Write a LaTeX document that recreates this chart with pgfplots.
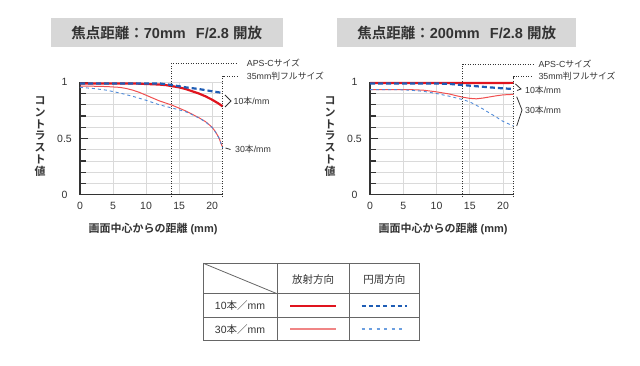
\documentclass[border=0pt]{standalone}
\usepackage{pgfplots}
\pgfplotsset{compat=1.18}
\usepackage{fontspec}
\setmainfont{Liberation Sans}
\newfontfamily\jp{Noto Sans CJK JP}[BoldFont={Noto Sans CJK JP Bold}]
\definecolor{rthick}{HTML}{E0141E}
\definecolor{rthin}{HTML}{F05050}
\definecolor{bthick}{HTML}{1F5DB5}
\definecolor{bthin}{HTML}{4F8AD8}
\definecolor{bleg}{HTML}{6C9FE0}
\definecolor{rleg}{HTML}{F08585}
\definecolor{titlegray}{HTML}{D7D7D7}
\definecolor{gridc}{HTML}{DADADA}
\definecolor{axc}{HTML}{333333}
\tikzset{
  r10/.style={rthick, line width=2.2pt},
  t10/.style={bthick, line width=2.2pt, dash pattern=on 5pt off 3pt},
  r30/.style={rthin, line width=1pt},
  t30/.style={bthin, line width=0.9pt, dash pattern=on 3pt off 3pt},
  dotl/.style={axc, line width=0.7pt, dash pattern=on 1pt off 1.5pt},
}
\pgfplotsset{mtf/.style={
  scale only axis, height=112.4pt,
  xmin=0, xmax=21.6, ymin=0, ymax=1,
  axis lines=left, axis line style={-, axc, line width=1.6pt},
  clip=false,
  xtick={0,5,10,15,20}, ytick={0,0.5,1},
  minor ytick={0.1,0.2,0.3,0.4,0.6,0.7,0.8,0.9},
  grid=both, major grid style={gridc, line width=0.6pt}, minor grid style={gridc, line width=0.6pt},
  tick align=inside, major tick length=8pt, minor tick length=6pt,
  ytick style={axc, line width=1.2pt}, minor tick style={axc, line width=1.2pt},
  xtick style={draw=none},
  /pgf/number format/assume math mode=true,
  ticklabel style={font=\fontsize{10.5}{10.5}\selectfont, text=axc},
  yticklabel style={anchor=center, xshift=-15.5pt},
  xticklabel style={yshift=-4pt},
}}
\begin{document}
\begin{tikzpicture}[x=1pt,y=1pt]
\useasboundingbox (0,0) rectangle (640,366);
% titles
\fill[titlegray] (50.7,{366-18.3}) rectangle (282.7,{366-46.7});
\fill[titlegray] (337.3,{366-18.3}) rectangle (576,{366-46.7});
\node[font=\fontsize{14.5}{14.5}\selectfont\bfseries, text=axc] at (166.7,{366-32.5}) {{\jp\bfseries 焦点距離：}70mm\hspace{0.7em}F/2.8 {\jp\bfseries 開放}};
\node[font=\fontsize{14.5}{14.5}\selectfont\bfseries, text=axc] at (456.7,{366-32.5}) {{\jp\bfseries 焦点距離：}200mm\hspace{0.7em}F/2.8 {\jp\bfseries 開放}};

% left chart
\begin{axis}[mtf, at={(80pt,171.3pt)}, anchor=south west, width=142.7pt]
\addplot[r30] coordinates {(0,0.965)(2,0.965)(4,0.962)(6,0.955)(7,0.945)(8,0.93)(9,0.91)(10,0.885)(11,0.86)(12,0.835)(13,0.815)(14,0.795)(15,0.77)(16,0.745)(17,0.715)(18,0.685)(19,0.65)(20,0.6)(20.5,0.56)(21,0.51)(21.6,0.42)};
\addplot[t30] coordinates {(0,0.955)(2,0.945)(4,0.93)(6,0.905)(8,0.875)(10,0.84)(12,0.80)(14,0.77)(15,0.755)(16,0.738)(17,0.712)(18,0.682)(19,0.648)(20,0.598)(20.5,0.558)(21,0.508)(21.6,0.415)};
\addplot[r10] coordinates {(0,0.99)(2,0.99)(4,0.99)(6,0.99)(8,0.99)(10,0.985)(12,0.98)(13,0.975)(14,0.965)(15,0.955)(16,0.94)(17,0.92)(18,0.90)(19,0.875)(20,0.845)(21,0.81)(21.6,0.785)};
\addplot[t10] coordinates {(0,0.99)(4,0.99)(8,0.99)(12,0.99)(14,0.975)(15,0.965)(16,0.955)(18,0.94)(20,0.92)(21.6,0.905)};
\draw[dotl] (axis cs:13.9,-0.02) -- (axis cs:13.9,1.17) -- (axis cs:23.8,1.17);
\draw[dotl] (axis cs:21.6,-0.02) -- (axis cs:21.6,1.056) -- (axis cs:23.8,1.056);
\end{axis}

% right chart
\begin{axis}[mtf, at={(370pt,171.3pt)}, anchor=south west, width=143.7pt]
\addplot[r30] coordinates {(0,0.935)(2,0.935)(4,0.935)(6,0.935)(8,0.93)(10,0.915)(12,0.895)(13,0.88)(14,0.867)(15,0.857)(16,0.853)(17,0.86)(18,0.87)(19,0.88)(20,0.888)(21.6,0.893)};
\addplot[t30] coordinates {(0,0.935)(2,0.935)(4,0.935)(6,0.93)(8,0.92)(10,0.90)(12,0.875)(14,0.845)(15,0.825)(16,0.795)(17,0.762)(18,0.725)(19,0.69)(20,0.652)(21.6,0.61)};
\addplot[r10] coordinates {(0,0.993)(5,0.993)(10,0.993)(15,0.993)(20,0.994)(21.6,0.995)};
\addplot[t10] coordinates {(0,0.99)(5,0.99)(10,0.99)(12,0.985)(14,0.975)(16,0.965)(18,0.955)(20,0.946)(21.6,0.94)};
\draw[dotl] (axis cs:13.93,-0.02) -- (axis cs:13.93,1.16) -- (axis cs:24.5,1.16);
\draw[dotl] (axis cs:21.6,-0.02) -- (axis cs:21.6,1.05) -- (axis cs:24.5,1.05);
\end{axis}

% axis labels
\node[font=\fontsize{11}{11}\selectfont\bfseries, text=axc] at (153,{366-229}) {{\jp\bfseries 画面中心からの距離} (mm)};
\node[font=\fontsize{11}{11}\selectfont\bfseries, text=axc] at (443,{366-229}) {{\jp\bfseries 画面中心からの距離} (mm)};
\node[font=\fontsize{11}{11}\selectfont\jp\bfseries, text=axc, inner sep=0pt] at (40,{366-138}) {\renewcommand\arraystretch{1}\begin{tabular}{@{}c@{}}コ\\ン\\ト\\ラ\\ス\\ト\\値\end{tabular}};
\node[font=\fontsize{11}{11}\selectfont\jp\bfseries, text=axc, inner sep=0pt] at (330,{366-138}) {\renewcommand\arraystretch{1}\begin{tabular}{@{}c@{}}コ\\ン\\ト\\ラ\\ス\\ト\\値\end{tabular}};

% annotations
\begin{scope}[every node/.style={font=\fontsize{8.8}{8.8}\selectfont, text=axc, anchor=west, inner sep=0pt}]
\node at (246.7,{366-63.3}) {APS-C{\jp サイズ}};
\node at (246.7,{366-76}) {35mm{\jp 判フルサイズ}};
\node at (233.5,{366-101}) {10{\jp 本}/mm};
\node at (235,{366-149}) {30{\jp 本}/mm};
\node at (538.3,{366-63.5}) {APS-C{\jp サイズ}};
\node at (538.3,{366-76.5}) {35mm{\jp 判フルサイズ}};
\node at (525,{366-90}) {10{\jp 本}/mm};
\node at (525,{366-110}) {30{\jp 本}/mm};
\end{scope}
\draw[axc, line width=0.8pt] (225,{366-95}) -- (231,{366-101}) -- (225,{366-107});
\draw[axc, line width=0.8pt] (225.5,{366-148}) -- (230.5,{366-149.5});
\draw[axc, line width=0.8pt] (515.5,{366-84}) -- (521,{366-89}) -- (517,{366-90.5});
\draw[axc, line width=0.8pt] (516.7,{366-96.7}) -- (522,{366-110}) -- (516.7,{366-126});

% table
\begin{scope}[draw=black!60, line width=0.8pt]
\draw (203.3,{366-263.3}) rectangle (419.3,{366-340});
\draw (277,{366-263.3}) -- (277,{366-340});
\draw (349.3,{366-263.3}) -- (349.3,{366-340});
\draw (203.3,{366-293.7}) -- (419.3,{366-293.7});
\draw (203.3,{366-317.7}) -- (419.3,{366-317.7});
\draw (203.3,{366-263.3}) -- (277,{366-293.7});
\end{scope}
\begin{scope}[every node/.style={font=\fontsize{10.5}{10.5}\selectfont, text=axc, inner sep=0pt}]
\node at (313,{366-280}) {\jp 放射方向};
\node at (384.3,{366-280}) {\jp 円周方向};
\node at (240,{366-306}) {10{\jp 本／}mm};
\node at (240,{366-329.5}) {30{\jp 本／}mm};
\end{scope}
\draw[r10, line width=1.8pt] (290,{366-306}) -- (335.7,{366-306});
\draw[t10, line width=1.8pt, dash pattern=on 4pt off 3.2pt] (361.7,{366-306}) -- (406.7,{366-306});
\draw[rleg, line width=1.1pt] (290,{366-329}) -- (335.7,{366-329});
\draw[bleg, line width=1.1pt, dash pattern=on 3pt off 4.5pt] (361.7,{366-329}) -- (406.7,{366-329});
\end{tikzpicture}
\end{document}
